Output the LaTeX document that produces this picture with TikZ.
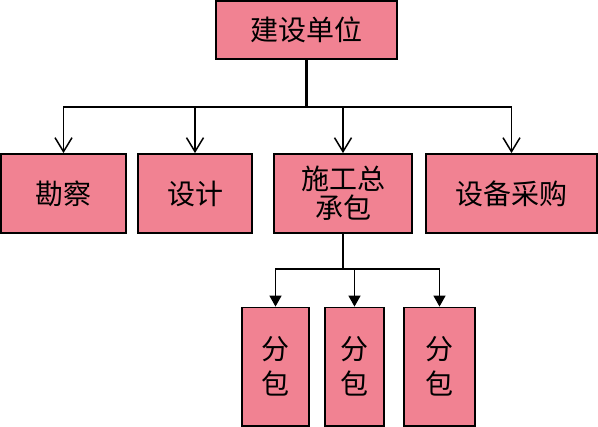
\documentclass[tikz,border=0pt]{standalone}
\usepackage{fontspec}
\newfontfamily\cjk{Noto Sans CJK SC}
\usetikzlibrary{arrows.meta}
\definecolor{boxfill}{RGB}{241,130,146}
\begin{document}
\begin{tikzpicture}[x=1pt,y=-1pt,
  box/.style={draw=black, line width=1.8pt, fill=boxfill, inner sep=0pt, align=center,
    font=\cjk\fontsize{28}{29}\selectfont},
  subbox/.style={box, font=\cjk\fontsize{28}{35}\selectfont},
  conn/.style={line width=1.8pt, draw=black},
  openarrow/.style={conn, -{Straight Barb[length=14pt,width=17pt,line width=1.5pt]}},
  filledarrow/.style={line width=1.5pt, draw=black, -{Triangle[length=11pt,width=12pt]}}]
\useasboundingbox (0,0) rectangle (598,427);
\node[box, minimum width=181pt, minimum height=58pt] (top) at (306.5,30) {建设单位};
\node[box, minimum width=125pt, minimum height=79pt] (kc) at (63.5,193.5) {勘察};
\node[box, minimum width=114pt, minimum height=79pt] (sj) at (195,193.5) {设计};
\node[box, minimum width=138pt, minimum height=79pt] (sg) at (343,193.5) {施工总\\承包};
\node[box, minimum width=171pt, minimum height=79pt] (sb) at (511.5,193.5) {设备采购};
\node[subbox, minimum width=67pt, minimum height=118.5pt] (f1) at (275.5,366.75) {分\\包};
\node[subbox, minimum width=59pt, minimum height=118.5pt] (f2) at (354.5,366.75) {分\\包};
\node[subbox, minimum width=71pt, minimum height=118.5pt] (f3) at (439.5,366.75) {分\\包};
\coordinate (j1) at (306.5,107);
\coordinate (j2) at (343,269);
\draw[conn, line width=2.2pt] (top.south) -- (j1);
\draw[openarrow] (j1) -| (kc.north);
\draw[openarrow] (j1) -| (sj.north);
\draw[openarrow] (j1) -| (sg.north);
\draw[openarrow] (j1) -| (sb.north);
\draw[conn, line width=1.5pt] (sg.south) -- (j2);
\draw[filledarrow] (j2) -| (f1.north);
\draw[filledarrow] (j2) -| (f2.north);
\draw[filledarrow] (j2) -| (f3.north);
\end{tikzpicture}
\end{document}
